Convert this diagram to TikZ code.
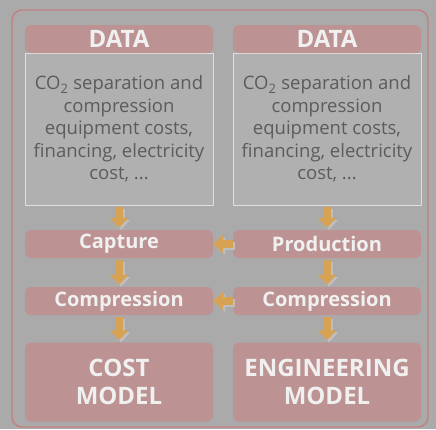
\documentclass[tikz,border=0pt]{standalone}
\usepackage{fontspec}
\setmainfont{Open Sans}
\usetikzlibrary{arrows.meta,positioning}
\definecolor{bggray}{RGB}{170,170,170}
\definecolor{boxred}{RGB}{188,146,146}
\definecolor{framered}{RGB}{196,128,128}
\definecolor{panelgray}{RGB}{176,176,176}
\definecolor{arroworange}{RGB}{216,162,84}
\definecolor{shadowgray}{RGB}{190,190,190}
\definecolor{txtgray}{RGB}{92,92,92}
\begin{document}
\begin{tikzpicture}[x=1pt,y=-1pt,line cap=round,line join=round,
  hdr/.style={fill=boxred,rounded corners=6pt,minimum width=188pt,minimum height=28pt,
    inner sep=0pt,text=white!88!gray,font=\bfseries\fontsize{24}{24}\selectfont},
  stage/.style={hdr,font=\bfseries\fontsize{20}{20}\selectfont},
  model/.style={hdr,minimum height=79pt,align=center,font=\bfseries\fontsize{24}{28}\selectfont},
  info/.style={fill=panelgray,draw=white!75!gray,thin,minimum width=188pt,minimum height=152pt,
    inner sep=0pt,align=center,text=txtgray,font=\fontsize{18.5}{22.5}\selectfont},
  flow/.style={arroworange,line width=8pt,line cap=butt,-{Triangle[length=10pt,width=18pt]},
    shorten <=2pt,shorten >=2pt,
    preaction={draw=shadowgray,line width=8pt,line cap=butt,-{Triangle[length=10pt,width=18pt]},
      transform canvas={shift={(2pt,-2pt)}}}}]
\fill[bggray] (0,0) rectangle (436,429);
\useasboundingbox (0,0) rectangle (436,429);
\draw[framered,line width=1.4pt,rounded corners=10pt] (12,10) rectangle (428,427);

% cost side
\node[info] (infoL) at (119,129) {CO\textsubscript{2} separation and\\compression\\equipment costs,\\financing, electricity\\cost, ...};
\node[hdr] (dataL) at (119,39) {DATA};
\node[stage] (capL) at (119,244) {Capture};
\node[stage] (compL) at (119,301) {Compression};
\node[model] (costL) at (119,382) {COST\\MODEL};

% engineering side
\node[info] (infoR) at (327,129) {CO\textsubscript{2} separation and\\compression\\equipment costs,\\financing, electricity\\cost, ...};
\node[hdr] (dataR) at (327,39) {DATA};
\node[stage] (prodR) at (327,244) {Production};
\node[stage] (compR) at (327,301) {Compression};
\node[model] (engR) at (327,382) {ENGINEERING\\MODEL};

\draw[flow] (infoL) -- (capL);
\draw[flow] (capL) -- (compL);
\draw[flow] (compL) -- (costL);
\draw[flow] (infoR) -- (prodR);
\draw[flow] (prodR) -- (compR);
\draw[flow] (compR) -- (engR);
\draw[flow,shorten <=0pt,shorten >=0pt] (prodR) -- (capL);
\draw[flow,shorten <=0pt,shorten >=0pt] (compR) -- (compL);
\end{tikzpicture}
\end{document}
